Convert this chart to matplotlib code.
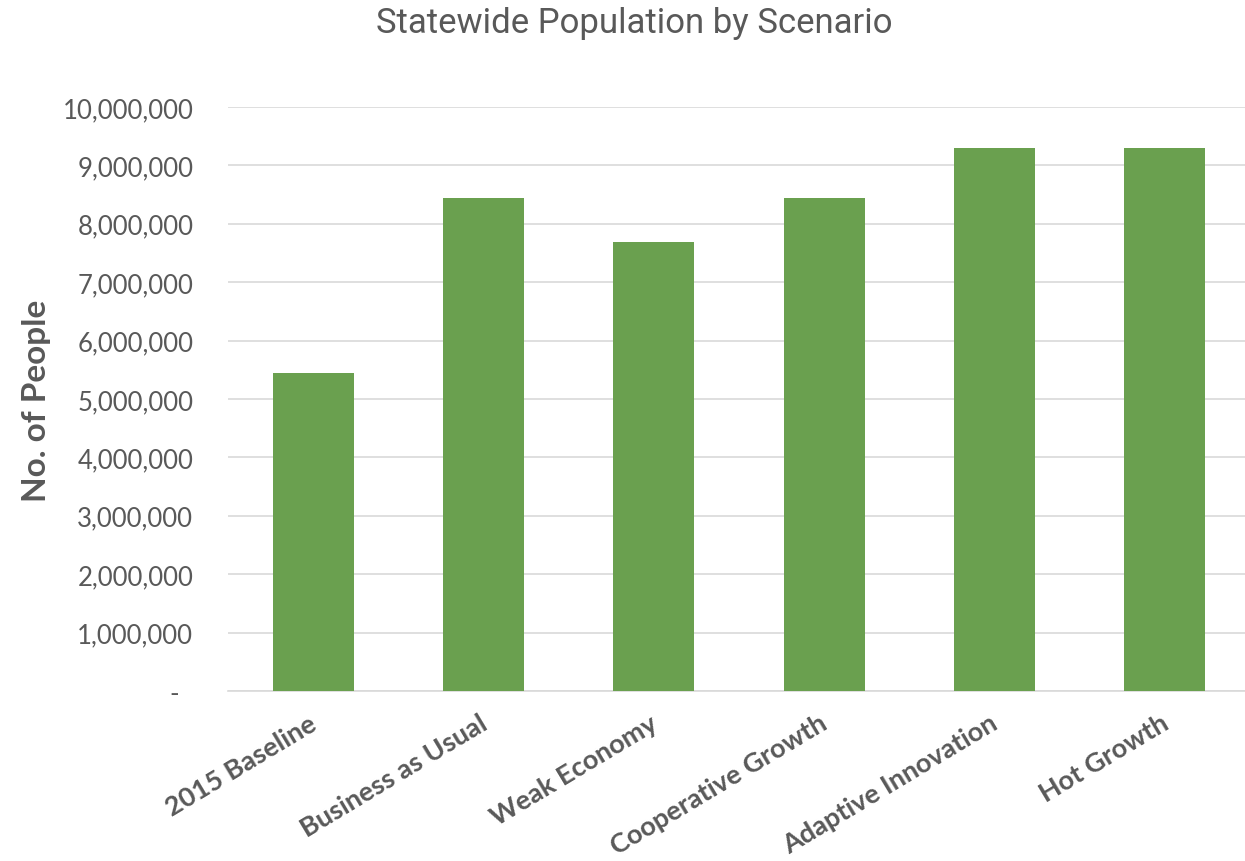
import matplotlib
matplotlib.use("Agg")
import matplotlib.pyplot as plt
from matplotlib.ticker import FuncFormatter, MultipleLocator
from matplotlib.transforms import ScaledTranslation

categories = ["2015 Baseline", "Business as Usual", "Weak Economy",
              "Cooperative Growth", "Adaptive Innovation", "Hot Growth"]
population = [5440000, 8440000, 7680000, 8440000, 9290000, 9290000]

title = "Statewide Population by Scenario"
ylabel = "No. of People"

text_color = "#595959"
bar_color = "#6AA04F"
grid_color = "#D9D9D9"

fig = plt.figure(figsize=(12.45, 8.62), dpi=100)
ax = fig.add_axes([228/1245, 1 - 692/862, (1250-228)/1245, (692-108)/862])

x = list(range(len(categories)))
ax.bar(x, population, width=0.475, color=bar_color, zorder=3)

ax.set_xlim(-0.5, len(categories) - 0.5)
ax.set_ylim(0, 10000000)
ax.yaxis.set_major_locator(MultipleLocator(1000000))
ax.yaxis.set_major_formatter(FuncFormatter(lambda v, p: "-  " if v == 0 else f"{int(v):,}"))
ax.grid(axis="y", color=grid_color, linewidth=1.2, zorder=0)
ax.set_axisbelow(True)

for s in ["top", "right", "left"]:
    ax.spines[s].set_visible(False)
ax.spines["bottom"].set_color(grid_color)
ax.spines["bottom"].set_linewidth(1.2)

ax.tick_params(axis="y", length=0, pad=25, labelsize=18.5, labelcolor=text_color)
ax.tick_params(axis="x", length=0, pad=14, labelcolor=text_color)
for lab in ax.get_yticklabels():
    lab.set_fontfamily("Lato")

ax.set_xticks(x)
ax.set_xticklabels(categories, rotation=31, ha="right", rotation_mode="anchor",
                   fontsize=19.5, fontweight="bold", fontfamily="Lato", color=text_color)
offset = ScaledTranslation(-5/100, 0, fig.dpi_scale_trans)
for lab in ax.get_xticklabels():
    lab.set_transform(lab.get_transform() + offset)

fig.text(37/1245, 1 - 401/862, ylabel, rotation=90, ha="center", va="center",
         fontsize=24, fontweight="bold", fontfamily="Lato", color=text_color)

fig.text(634/1245, 1 - 23/862, title, ha="center", va="center",
         fontsize=25, fontfamily="Roboto", color=text_color)

fig.savefig("out.png", dpi=100)
